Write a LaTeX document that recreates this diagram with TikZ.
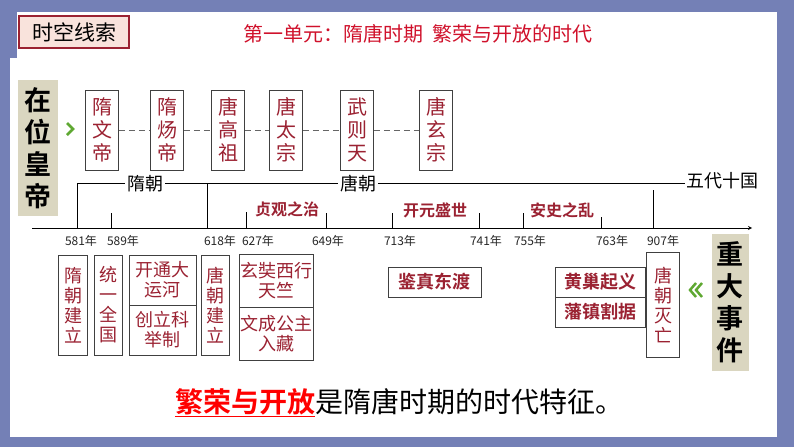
\documentclass[tikz,border=0pt]{standalone}
\usepackage{fontspec}
\setmainfont{Noto Sans CJK SC}
\newfontfamily\cjkb{Noto Sans CJK SC Bold}
\definecolor{bgblue}{HTML}{7480B6}
\definecolor{dred}{HTML}{9B2232}
\definecolor{tred}{HTML}{D0112B}
\definecolor{beige}{HTML}{DAD6C0}
\definecolor{pinkf}{HTML}{F9E3DC}
\definecolor{chev}{HTML}{5FA832}
\tikzset{
 box/.style={draw=black!75,line width=0.8pt,fill=white,inner sep=1pt,align=center,text=dred,font=\fontsize{18}{20}\selectfont},
 emp/.style={box,minimum width=33pt,minimum height=80pt,font=\fontsize{20}{23}\selectfont},
 yr/.style={font=\fontsize{12}{13}\selectfont,text=black!85},
 ev/.style={text=dred,font=\cjkb\fontsize{16}{18}\selectfont},
 side/.style={fill=beige,align=center,font=\cjkb\fontsize{27}{32}\selectfont,inner sep=0pt},
 tl/.style={line width=0.8pt}
}
\begin{document}
\begin{tikzpicture}[x=1pt,y=-1pt]
\fill[bgblue] (0,0) rectangle (794,447);
\fill[white] (17,12) rectangle (777,437);
\fill[white] (10,58) rectangle (777,437);
% header
\node[draw=dred,line width=2.2pt,fill=pinkf,minimum width=110pt,minimum height=32pt,font=\fontsize{21}{22}\selectfont] (hdr) at (74,32) {时空线索};
\node[text=tred,font=\fontsize{20}{22}\selectfont] (title) at (418,34) {第一单元：隋唐时期\ \ 繁荣与开放的时代};
% side labels
\node[side,minimum width=40pt,minimum height=136pt] (s1) at (38,148) {在\\位\\皇\\帝};
\node[side,minimum width=37pt,minimum height=137pt] (s2) at (730,302) {重\\大\\事\\件};
\draw[chev,line width=2.5pt] (67,123) -- (73,129) -- (67,135);
\draw[chev,line width=2.5pt] (696,283) -- (690,290) -- (696,297);
\draw[chev,line width=2.5pt] (702,283) -- (696,290) -- (702,297);
% emperors
\node[emp] (e1) at (102,130) {隋\\文\\帝};
\node[emp] (e2) at (167,130) {隋\\炀\\帝};
\node[emp] (e3) at (228,130) {唐\\高\\祖};
\node[emp] (e4) at (286,130) {唐\\太\\宗};
\node[emp] (e5) at (357,130) {武\\则\\天};
\node[emp] (e6) at (436,130) {唐\\玄\\宗};
\foreach \a/\b in {e1/e2,e2/e3,e3/e4,e4/e5,e5/e6}
  \draw[dash pattern=on 6pt off 4pt,black!60,line width=0.9pt] (\a) -- (\b);
% dynasty line
\coordinate (d0) at (77,183);
\coordinate (d1) at (685,183);
\coordinate (a0) at (32,228);
\coordinate (a1) at (752,228);
\draw[tl] (77,228) -- (d0) -- (d1);
\draw[tl] (207,183) -- (207,228);
\draw[tl] (653,190) -- (653,228);
\node[fill=white,font=\fontsize{18}{18}\selectfont,inner sep=2pt] (sui) at (145,184) {隋朝};
\node[fill=white,font=\fontsize{18}{18}\selectfont,inner sep=2pt] (tang) at (358,184) {唐朝};
\node[anchor=west,font=\fontsize{18}{18}\selectfont,inner sep=1pt] (wd) at (685,181) {五代十国};
% axis
\draw[tl,-stealth] (a0) -- (a1);
\foreach \x/\t in {111/213,246/212,326/213,392/213,479/213,523/213,601/217}
  \draw[tl] (\x,\t) -- (\x,228);
\node[ev] (zg) at (287,209) {贞观之治};
\node[ev] (ky) at (435,210) {开元盛世};
\node[ev] (as) at (562,210) {安史之乱};
\foreach \x/\t [count=\i] in {81/581,123/589,220/618,258/627,328/649,400/713,486/741,530/755,612/763,663/907}
  \node[yr] (y\i) at (\x,241) {\t 年};
% events
\node[box,minimum width=29pt,minimum height=100pt] (b1) at (73,305) {隋\\朝\\建\\立};
\node[box,minimum width=28pt,minimum height=100pt] (b2) at (108,305) {统\\一\\全\\国};
\node[box,minimum width=67pt,minimum height=50pt] (b3) at (162.5,280) {开通大\\运河};
\node[box,minimum width=67pt,minimum height=50pt] (b4) at (162.5,330) {创立科\\举制};
\node[box,minimum width=28pt,minimum height=100pt] (b5) at (215,305) {唐\\朝\\建\\立};
\node[box,minimum width=73pt,minimum height=53pt] (b6) at (276,281) {玄奘西行\\天竺};
\node[box,minimum width=73pt,minimum height=53pt] (b7) at (276,334) {文成公主\\入藏};
\node[box,minimum width=93pt,minimum height=30pt,font=\cjkb\fontsize{18}{20}\selectfont] (b8) at (434.5,282) {鉴真东渡};
\node[box,minimum width=90pt,minimum height=30pt,font=\cjkb\fontsize{18}{20}\selectfont] (b9) at (600,282) {黄巢起义};
\node[box,minimum width=90pt,minimum height=30pt,font=\cjkb\fontsize{18}{20}\selectfont] (b10) at (600,312) {藩镇割据};
\node[box,minimum width=33pt,minimum height=105pt] (b11) at (663,305) {唐\\朝\\灭\\亡};
% conclusion
\node[anchor=west,inner sep=0pt,font=\fontsize{28}{30}\selectfont] (concl) at (175,403)
 {{\cjkb\color{red}\underline{繁荣与开放}}是隋唐时期的时代特征。};
\end{tikzpicture}
\end{document}
